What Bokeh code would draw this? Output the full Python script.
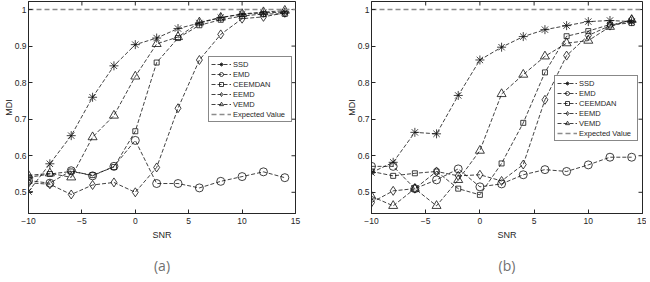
import math
from bokeh.plotting import figure
from bokeh.layouts import row
from bokeh.models import Title, Legend, LegendItem, Range1d, FixedTicker
from bokeh.embed import file_html
from bokeh.resources import INLINE

# ---------------- data ----------------
snr = [-10, -8, -6, -4, -2, 0, 2, 4, 6, 8, 10, 12, 14]
x_ticks = [-10, -5, 0, 5, 10, 15]
y_ticks = [0.5, 0.6, 0.7, 0.8, 0.9, 1.0]
x_limits = [-10, 15]
y_limits = [0.442, 1.022]
expected_value = 1.0

ssd_a = [0.502, 0.578, 0.655, 0.760, 0.846, 0.904, 0.922, 0.948, 0.963, 0.978, 0.987, 0.991, 0.993]
emd_a = [0.532, 0.525, 0.559, 0.545, 0.571, 0.642, 0.524, 0.524, 0.512, 0.530, 0.543, 0.556, 0.540]
ceemdan_a = [0.541, 0.550, 0.557, 0.547, 0.569, 0.667, 0.855, 0.922, 0.957, 0.972, 0.982, 0.988, 0.988]
eemd_a = [0.526, 0.522, 0.494, 0.520, 0.527, 0.500, 0.568, 0.730, 0.862, 0.932, 0.975, 0.980, 0.991]
vemd_a = [0.546, 0.552, 0.541, 0.651, 0.710, 0.817, 0.906, 0.925, 0.965, 0.978, 0.988, 0.993, 0.997]

ssd_b = [0.554, 0.582, 0.664, 0.660, 0.765, 0.862, 0.897, 0.926, 0.945, 0.956, 0.967, 0.970, 0.967]
emd_b = [0.571, 0.571, 0.510, 0.534, 0.564, 0.515, 0.523, 0.548, 0.562, 0.557, 0.575, 0.596, 0.596]
ceemdan_b = [0.557, 0.545, 0.552, 0.557, 0.510, 0.493, 0.579, 0.690, 0.828, 0.927, 0.941, 0.959, 0.963]
eemd_b = [0.472, 0.504, 0.510, 0.557, 0.545, 0.548, 0.531, 0.576, 0.753, 0.874, 0.929, 0.956, 0.972]
vemd_b = [0.489, 0.463, 0.510, 0.463, 0.534, 0.614, 0.769, 0.822, 0.872, 0.908, 0.915, 0.953, 0.972]

series_names = ["SSD", "EMD", "CEEMDAN", "EEMD", "VEMD"]
markers = ["asterisk", "circle", "square", "diamond", "triangle"]
marker_sizes = [9, 8, 5, 9, 9]

FONT = "Liberation Sans"
TXT = "#262626"


def style_axis(ax):
    ax.axis_line_color = TXT
    ax.major_tick_line_color = TXT
    ax.major_tick_in = 4
    ax.major_tick_out = 0
    ax.minor_tick_line_color = None
    ax.major_label_text_font = FONT
    ax.major_label_text_font_size = "8.5px"
    ax.major_label_text_color = TXT
    ax.axis_label_text_font = FONT
    ax.axis_label_text_font_size = "9px"
    ax.axis_label_text_font_style = "normal"
    ax.axis_label_text_color = TXT


def make_panel(series, caption, frame_w, right_min, legend_loc):
    p = figure(frame_width=frame_w, frame_height=212, output_backend="svg",
               toolbar_location=None, x_range=Range1d(x_limits[0], x_limits[1]),
               y_range=Range1d(y_limits[0], y_limits[1]), min_border_left=0,
               min_border_right=right_min, min_border_top=1, min_border_bottom=69)
    p.grid.visible = False
    p.outline_line_color = TXT
    p.outline_line_width = 1
    p.outline_line_alpha = 1
    p.background_fill_color = "white"
    p.border_fill_color = "white"

    # inward ticks on the top and right edges of the box (clipped half of a dash)
    p.scatter(x_ticks, [y_limits[1]] * len(x_ticks), marker="dash", angle=math.pi / 2,
              size=8, line_color=TXT, line_width=1)
    p.scatter([x_limits[1]] * len(y_ticks), y_ticks, marker="dash",
              size=8, line_color=TXT, line_width=1)

    items = []
    for name, ys, mk, sz in zip(series_names, series, markers, marker_sizes):
        l = p.line(snr, ys, line_color="#111111", line_width=0.8, line_dash="4 2")
        s = p.scatter(snr, ys, marker=mk, size=sz, line_color="#111111",
                      fill_alpha=0, line_width=0.8)
        items.append(LegendItem(label=name, renderers=[l, s]))
    e = p.line(x_limits, [expected_value, expected_value], line_color="#8c8c8c",
               line_width=1.5, line_dash="5 3")
    items.append(LegendItem(label="Expected Value", renderers=[e]))

    leg = Legend(items=items, location=legend_loc,
                 label_text_font=FONT, label_text_font_size="7.5px",
                 label_text_color=TXT, glyph_width=20, glyph_height=10,
                 label_height=10, label_width=56, label_standoff=2, spacing=0,
                 padding=2, margin=0, border_line_color="#111111",
                 border_line_width=1, background_fill_alpha=1)
    p.add_layout(leg)

    style_axis(p.xaxis[0])
    style_axis(p.yaxis[0])
    p.xaxis.ticker = FixedTicker(ticks=x_ticks)
    p.yaxis.ticker = FixedTicker(ticks=y_ticks)
    p.xaxis.axis_label = "SNR"
    p.yaxis.axis_label = "MDI"
    p.xaxis.major_label_standoff = 4
    p.xaxis.axis_label_standoff = 3
    p.yaxis.major_label_standoff = 2
    p.yaxis.axis_label_standoff = -2

    t = Title(text=caption, align="center", text_font="Open Sans",
              text_font_size="14px", text_font_style="normal",
              text_color="#707070", standoff=22)
    p.add_layout(t, "below")
    return p


pa = make_panel([ssd_a, emd_a, ceemdan_a, eemd_a, vemd_a], "(a)", 267, 48, (180, 91))
pb = make_panel([ssd_b, emd_b, ceemdan_b, eemd_b, vemd_b], "(b)", 271, 4, (183, 72))

layout = row(pa, pb)
open("out.html", "w").write(file_html(layout, INLINE))
